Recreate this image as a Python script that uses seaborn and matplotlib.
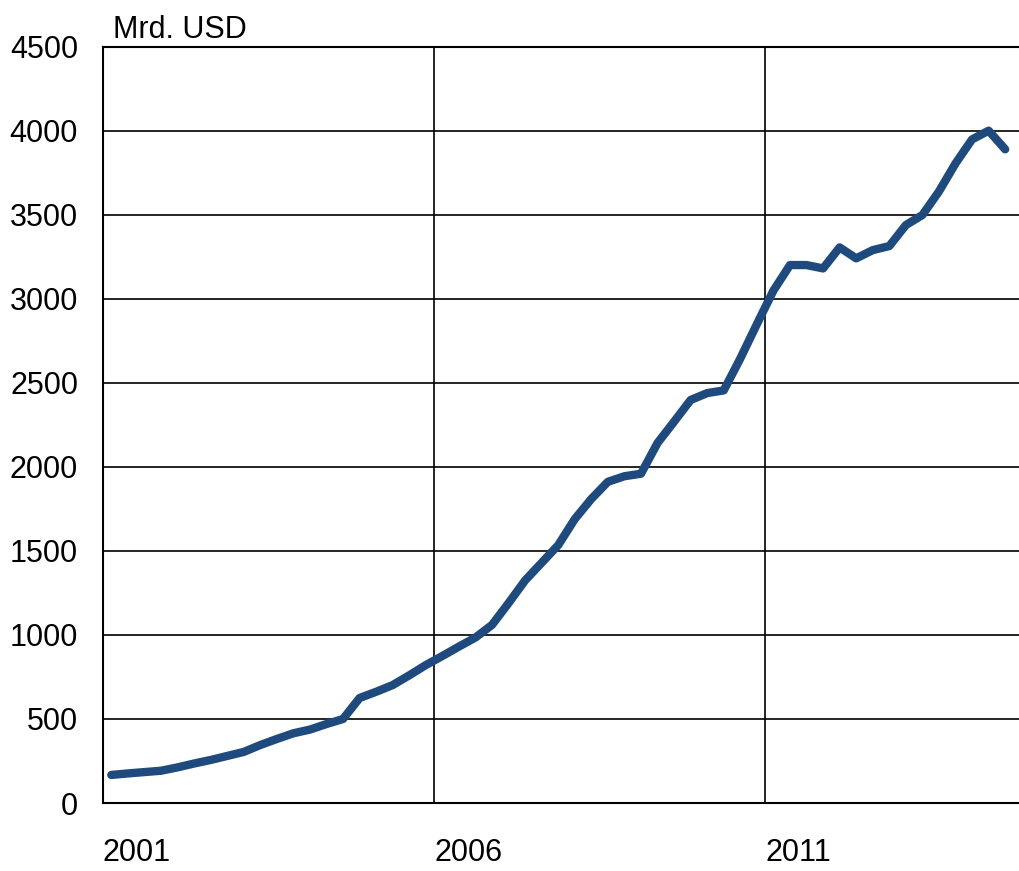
import numpy as np
import pandas as pd
import matplotlib
matplotlib.use("Agg")
import matplotlib.pyplot as plt
from matplotlib.ticker import MultipleLocator, FixedLocator
import seaborn as sns

# ---- data (quarterly, 2001Q1 .. 2014Q3) ----
start_year = 2001
values = [
    167, 176, 184, 192,      # 2001
    212, 235, 256, 280,      # 2002
    304, 345, 381, 415,      # 2003
    437, 470, 500, 625,      # 2004
    662, 702, 760, 821,      # 2005
    875, 931, 985, 1060,     # 2006
    1190, 1325, 1430, 1535,  # 2007
    1690, 1810, 1912, 1945,  # 2008
    1960, 2143, 2270, 2399,  # 2009
    2440, 2456, 2646, 2850,  # 2010
    3050, 3202, 3202, 3182,  # 2011
    3307, 3242, 3291, 3315,  # 2012
    3440, 3500, 3640, 3807,  # 2013
    3950, 4002, 3891,        # 2014
]
year_labels = ["2001", "2006", "2011"]
unit_label = "Mrd. USD"

# quarter midpoints in decimal years
quarters = np.arange(len(values))
xpos = start_year + (quarters + 0.5) / 4.0
df = pd.DataFrame({"t": xpos, "v": values})

sns.set_style("white")
plt.rcParams["font.family"] = ["Liberation Sans", "DejaVu Sans"]
plt.rcParams["text.color"] = "black"

W, H = 1019, 871
fig = plt.figure(figsize=(W / 100, H / 100), dpi=100)
left_px, right_px, top_px, bottom_px = 103, 1030, 47, 803
ax = fig.add_axes([left_px / W, 1 - bottom_px / H,
                   (right_px - left_px) / W, (bottom_px - top_px) / H])

sns.lineplot(data=df, x="t", y="v", ax=ax, color="#1F4A7E", linewidth=6,
             solid_capstyle="round", solid_joinstyle="round", zorder=3)

ax.set_xlim(2001, 2015)
ax.set_ylim(0, 4500)
ax.yaxis.set_major_locator(MultipleLocator(500))
ax.xaxis.set_major_locator(FixedLocator([float(y) for y in year_labels]))
ax.set_xticklabels(year_labels)
ax.xaxis.set_minor_locator(MultipleLocator(1))

fs = 22
ax.tick_params(axis="y", direction="in", length=7, width=1.3, pad=18,
               labelsize=fs, colors="black")
ax.tick_params(axis="x", which="both", direction="in", length=8, width=1.3,
               pad=25, labelsize=fs, colors="black")
for lab in ax.get_xticklabels():
    lab.set_horizontalalignment("left")

ax.grid(True, axis="y", color="black", linewidth=1.2, zorder=1)
ax.grid(True, axis="x", which="major", color="black", linewidth=1.2, zorder=1)
for s in ax.spines.values():
    s.set_color("black")
    s.set_linewidth(1.5)
ax.spines["right"].set_visible(False)

ax.set_xlabel("")
ax.set_ylabel("")

fig.text(113 / W, 1 - 38 / H, unit_label, fontsize=fs, color="black",
         ha="left", va="baseline")

fig.savefig("out.png", dpi=100, facecolor="white")
